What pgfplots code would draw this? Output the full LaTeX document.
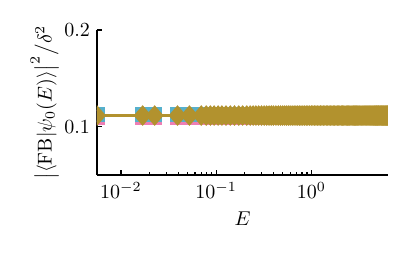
\documentclass[border=0pt]{standalone}
\usepackage{pgfplots}
\usepackage{pgfplotstable}
\pgfplotsset{compat=1.18}
\definecolor{cpink}{RGB}{238,126,180}
\definecolor{cteal}{RGB}{86,176,204}
\definecolor{cgold}{RGB}{178,146,46}
\pgfplotstableread{
E p t g
0.0056 0.1098 0.1128 0.1115
0.0169 0.1098 0.1128 0.1115
0.0226 0.1098 0.1128 0.1115
0.0393 0.1098 0.1128 0.1115
0.0524 0.1098 0.1128 0.1115
0.0698 0.1098 0.1128 0.1115
0.0787 0.1098 0.1128 0.1115
0.0870 0.1098 0.1128 0.1115
0.0953 0.1098 0.1128 0.1115
0.105 0.1098 0.1128 0.1115
0.115 0.1098 0.1128 0.1115
0.127 0.1098 0.1128 0.1115
0.141 0.1098 0.1128 0.1115
0.156 0.1098 0.1128 0.1115
0.173 0.1098 0.1128 0.1115
0.190 0.1098 0.1128 0.1115
0.21 0.1098 0.1128 0.1115
0.228 0.1098 0.1128 0.1115
0.245 0.1098 0.1128 0.1115
0.262 0.1098 0.1128 0.1115
0.28 0.1098 0.1128 0.1115
0.30 0.1098 0.1128 0.1115
0.32 0.1098 0.1128 0.1115
0.34 0.1098 0.1128 0.1115
0.36 0.1098 0.1128 0.1115
0.38 0.1098 0.1128 0.1115
0.40 0.1098 0.1128 0.1115
0.425 0.1098 0.1128 0.1115
0.45 0.1098 0.1128 0.1115
0.475 0.1098 0.1128 0.1115
0.50 0.1098 0.1128 0.1115
0.525 0.1098 0.1128 0.1115
0.55 0.1098 0.1128 0.1115
0.575 0.1098 0.1128 0.1115
0.60 0.1098 0.1128 0.1115
0.63 0.1098 0.1128 0.1115
0.66 0.1098 0.1128 0.1115
0.69 0.1098 0.1128 0.1115
0.72 0.1098 0.1128 0.1115
0.75 0.1098 0.1128 0.1115
0.78 0.1098 0.1128 0.1115
0.815 0.1098 0.1128 0.1115
0.85 0.1098 0.1128 0.1115
0.885 0.1098 0.1128 0.1115
0.92 0.1098 0.1128 0.1115
0.96 0.1098 0.1128 0.1115
1.0 0.1098 0.1128 0.1115
1.04 0.1098 0.1128 0.1115
1.08 0.1098 0.1128 0.1115
1.12 0.1098 0.1128 0.1115
1.16 0.1098 0.1128 0.1115
1.205 0.1098 0.1128 0.1115
1.25 0.1098 0.1128 0.1115
1.295 0.1098 0.1128 0.1115
1.34 0.1098 0.1128 0.1115
1.39 0.1098 0.1128 0.1115
1.44 0.1098 0.1128 0.1115
1.49 0.1098 0.1128 0.1115
1.54 0.1098 0.1128 0.1115
1.595 0.1098 0.1128 0.1115
1.65 0.1098 0.1128 0.1115
1.705 0.1098 0.1128 0.1115
1.76 0.1098 0.1128 0.1115
1.82 0.1098 0.1128 0.1115
1.88 0.1098 0.1128 0.1115
1.94 0.1098 0.1128 0.1115
2.0 0.1098 0.1128 0.1115
2.065 0.1098 0.1128 0.1115
2.13 0.1098 0.1128 0.1115
2.195 0.1098 0.1128 0.1115
2.26 0.1098 0.1128 0.1115
2.33 0.1098 0.1128 0.1115
2.40 0.1098 0.1128 0.1115
2.47 0.1098 0.1128 0.1115
2.54 0.1098 0.1128 0.1115
2.615 0.1098 0.1128 0.1115
2.69 0.1098 0.1128 0.1115
2.765 0.1098 0.1128 0.1115
2.84 0.1098 0.1128 0.1115
2.92 0.1098 0.1128 0.1115
3.0 0.1098 0.1128 0.1115
3.08 0.1098 0.1128 0.1115
3.16 0.1098 0.1128 0.1115
3.245 0.1098 0.1128 0.1115
3.33 0.1098 0.1128 0.1115
3.415 0.1098 0.1128 0.1115
3.50 0.1098 0.1128 0.1115
3.59 0.1098 0.1128 0.1115
3.68 0.1098 0.1128 0.1115
3.77 0.1098 0.1128 0.1115
3.86 0.1098 0.1128 0.1115
3.955 0.1098 0.1128 0.1115
4.05 0.1098 0.1128 0.1115
4.145 0.1098 0.1128 0.1115
4.24 0.1098 0.1128 0.1115
4.34 0.1098 0.1128 0.1115
4.44 0.1098 0.1128 0.1115
4.54 0.1098 0.1128 0.1115
4.64 0.1098 0.1128 0.1115
4.745 0.1098 0.1128 0.1115
4.85 0.1098 0.1128 0.1115
4.955 0.1098 0.1128 0.1115
5.06 0.1098 0.1128 0.1115
5.17 0.1098 0.1128 0.1115
5.28 0.1098 0.1128 0.1115
5.39 0.1098 0.1128 0.1115
5.50 0.1098 0.1128 0.1115
5.615 0.1098 0.1128 0.1115
5.73 0.1098 0.1128 0.1115
5.845 0.1098 0.1128 0.1115
5.96 0.1098 0.1128 0.1115
6.07 0.1098 0.1128 0.1115
6.18 0.1098 0.1128 0.1115
6.29 0.1098 0.1128 0.1115
6.4 0.1098 0.1128 0.1115
}\Edata
\begin{document}
\begin{tikzpicture}
\path[use as bounding box] (-48.5pt,-39.5pt) rectangle (157pt,87.5pt);
\begin{semilogxaxis}[
  at={(0pt,0pt)}, anchor=south west,
  scale only axis, width=145.5pt, height=72.5pt,
  xmin=0.0056, xmax=6.4, ymin=0.05, ymax=0.2,
  axis lines*=left,
  axis line style={line width=0.9pt},
  tick align=inside,
  major tick length=2.6pt, minor tick length=1.4pt,
  tick style={black, line width=0.6pt},
  xtick={0.01,0.1,1},
  ytick={0.1,0.2},
  yticklabel style={/pgf/number format/fixed,/pgf/number format/precision=1},
  xlabel={$E$},
  ylabel={$\bigl|\langle \mathrm{FB}|\psi_0(E)\rangle\bigr|^2 \big/ \delta^2$},
  ylabel style={yshift=-4pt},
  clip=true,
  clip marker paths=true,
]
\addplot[only marks, mark=square*, mark size=3.6pt, color=cpink, mark options={draw=none, fill=cpink}]
  table[x=E, y=p] {\Edata};
\addplot[only marks, mark=square*, mark size=3.6pt, color=cteal, mark options={draw=none, fill=cteal}]
  table[x=E, y=t] {\Edata};
\addplot[line width=1.8pt, color=cgold, mark=diamond*, mark size=3.8pt, mark options={draw=none, fill=cgold, xscale=1.15}]
  table[x=E, y=g] {\Edata};
\end{semilogxaxis}
\end{tikzpicture}
\end{document}
